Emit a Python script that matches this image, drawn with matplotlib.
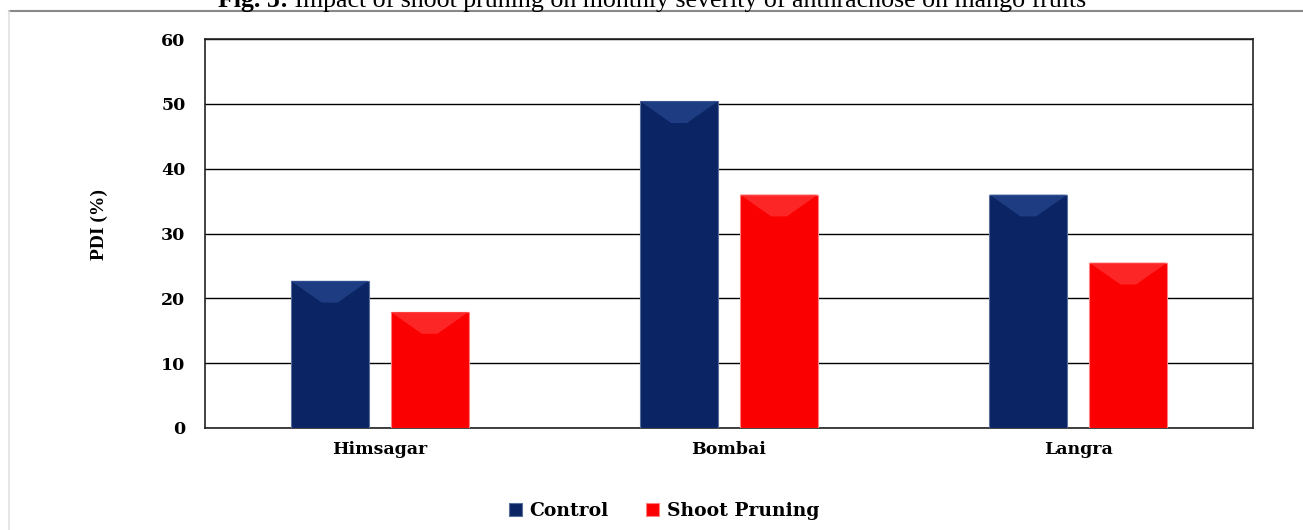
import numpy as np
import matplotlib
import matplotlib.pyplot as plt
from matplotlib.patches import Polygon
from matplotlib.lines import Line2D

matplotlib.rcParams['font.family'] = 'Liberation Serif'

# data
varieties = ['Himsagar', 'Bombai', 'Langra']
control = [22.7, 50.4, 36.0]
shoot_pruning = [17.9, 36.0, 25.5]
series_names = ['Control', 'Shoot Pruning']
y_ticks = [0, 10, 20, 30, 40, 50, 60]

title_bold = 'Fig. 5:'
title_rest = ' Impact of shoot pruning on monthly severity of anthracnose on mango fruits'

wide_bold = {'family': 'DejaVu Serif', 'weight': 'bold', 'size': 12.5}

fig = plt.figure(figsize=(13.03, 5.30), dpi=100)
ax = fig.add_axes([205/1303, 1-428/530, 1048/1303, 389/530])

x = np.arange(len(varieties))
w = 0.223
off = 0.143
b1 = ax.bar(x - off, control, w, color='#0b2463', edgecolor='#5a6f9e', lw=0.8, zorder=3)
b2 = ax.bar(x + off, shoot_pruning, w, color='#fa0000', edgecolor='#ff8080', lw=0.8, zorder=3)

# soft bevel on top of each bar, built from the bar geometry
px_per_unit = 389 / 60.0
px_per_x = 1048 / 3.0
for bars, light in [(b1, '#24438a'), (b2, '#ff3030')]:
    for r in bars:
        x0, wd, h = r.get_x(), r.get_width(), r.get_height()
        depth = 0.28 * wd * px_per_x / px_per_unit
        poly = Polygon([[x0, h], [x0 + wd, h], [x0 + 0.6*wd, h - depth], [x0 + 0.4*wd, h - depth]],
                       closed=True, facecolor=light, edgecolor='none', alpha=0.8, zorder=4)
        ax.add_patch(poly)

ax.set_xlim(-0.5, 2.5)
ax.set_ylim(0, 60)
ax.set_yticks(y_ticks)
ax.set_yticklabels([str(t) for t in y_ticks], fontdict=wide_bold)
ax.set_xticks(x)
ax.set_xticklabels(varieties, fontdict=wide_bold)
ax.tick_params(length=0, pad=14)
ax.tick_params(axis='x', pad=9)
ax.grid(axis='y', color='black', lw=1.0, zorder=0)
for s in ax.spines.values():
    s.set_color('#222222')
    s.set_linewidth(1.2)
ax.set_ylabel('PDI (%)', fontsize=14, fontweight='bold')
ax.yaxis.set_label_coords(-0.093, 0.524)

leg = fig.legend([b1, b2], series_names, loc='center', bbox_to_anchor=(664/1303, 1-511/530),
                 ncol=2, frameon=False, prop=dict(wide_bold, size=13.5),
                 handlelength=0.7, handleheight=0.7, handletextpad=0.4, columnspacing=2.0)

# outer frame lines
fig.add_artist(Line2D([9/1303, 1], [1-11/530, 1-11/530], color='#888888', lw=1.5))
fig.add_artist(Line2D([9/1303, 9/1303], [0, 1-11/530], color='#e0e0e0', lw=1.2))

# title, partly cut by the top edge as in the source
t1 = fig.text(218/1303, 1-7/530, title_bold, fontsize=18.6, fontweight='bold', va='baseline')
fig.canvas.draw()
bb = t1.get_window_extent()
fig.text(bb.x1/1303, 1-7/530, title_rest, fontsize=18.6, va='baseline')

fig.savefig('out.png', dpi=100)
